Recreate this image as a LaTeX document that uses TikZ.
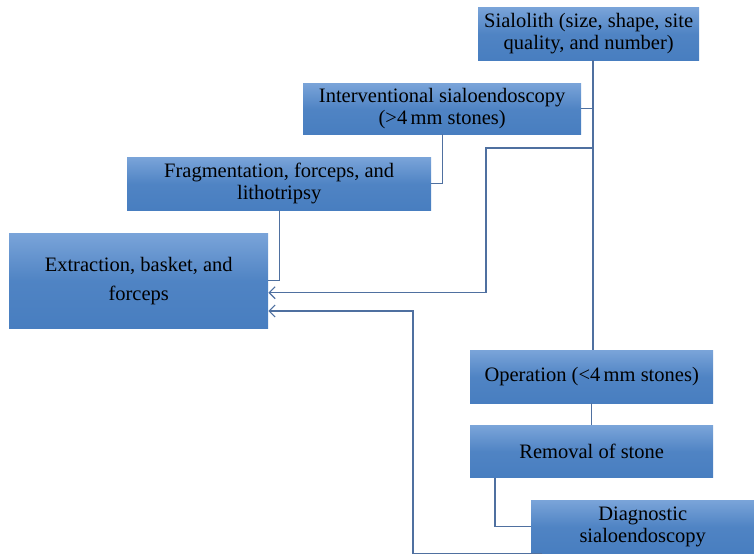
\documentclass[tikz,border=0pt]{standalone}
\usepackage{fontspec}
\setmainfont{Liberation Serif}
\usetikzlibrary{positioning}
\usetikzlibrary{arrows.meta}
\definecolor{boxtop}{RGB}{122,164,217}
\definecolor{boxbot}{RGB}{72,126,192}
\definecolor{wire}{RGB}{79,112,160}

\begin{document}
\begin{tikzpicture}[x=1pt,y=-1pt,
		blk/.style={anchor=north west,rectangle,top color=boxtop,bottom color=boxbot,middle color=boxbot!85!boxtop,inner sep=2pt,align=center,font=\fontsize{20.5}{22}\selectfont},
		lnk/.style={draw=wire,line width=1.1pt},
		arr/.style={lnk,-{Straight Barb[length=6pt,width=12pt,line width=1.1pt]}}]
		\useasboundingbox (0,0) rectangle (754,555);
		% boxes
		\node[blk,minimum width=221pt,minimum height=53pt] at (478,7) (sial) {Sialolith (size, shape, site\\quality, and number)};
		\node[blk,minimum width=278pt,minimum height=51pt] at (303,83) (interv) {Interventional sialoendoscopy\\(>4\,mm stones)};
		\node[blk,minimum width=304pt,minimum height=53pt] at (127,157) (frag) {Fragmentation, forceps, and\\lithotripsy};
		\node[blk,minimum width=259pt,minimum height=95pt] at (9,233) (extr) {Extraction, basket, and\\[7pt]forceps};
		\node[blk,minimum width=243pt,minimum height=53pt] at (470,350) (oper) {Operation (<4\,mm stones)};
		\node[blk,minimum width=243pt,minimum height=52pt,below = 22pt of oper.south west,anchor=north west] (remov) {Removal of stone};
		\node[blk,minimum width=223pt,minimum height=53pt] at (531,500) (diag) {Diagnostic\\sialoendoscopy};
		% junctions
		\coordinate (trunk) at (593,0);
		\coordinate (split) at (593,148);
		\coordinate (turn) at (486,148);
		\coordinate (back) at (413,311);
		% links
		\draw[lnk] (sial.south -| trunk) -- (oper.north -| trunk);
		\draw[lnk] (interv.east) -- (interv.east -| trunk);
		\draw[lnk] (interv.south) |- (frag.east);
		\draw[lnk] (frag.south) |- (extr.east);
		\draw[lnk] (oper.south) -- (remov.north);
		\draw[lnk] ([xshift=25pt]remov.south west) |- (diag.west);
		\draw[arr] (split) -- (turn) |- ([yshift=-12pt]extr.east);
		\draw[arr] ([xshift=11pt]diag.south west) -| (back) -- (extr.east |- back);
	\end{tikzpicture}
\end{document}
